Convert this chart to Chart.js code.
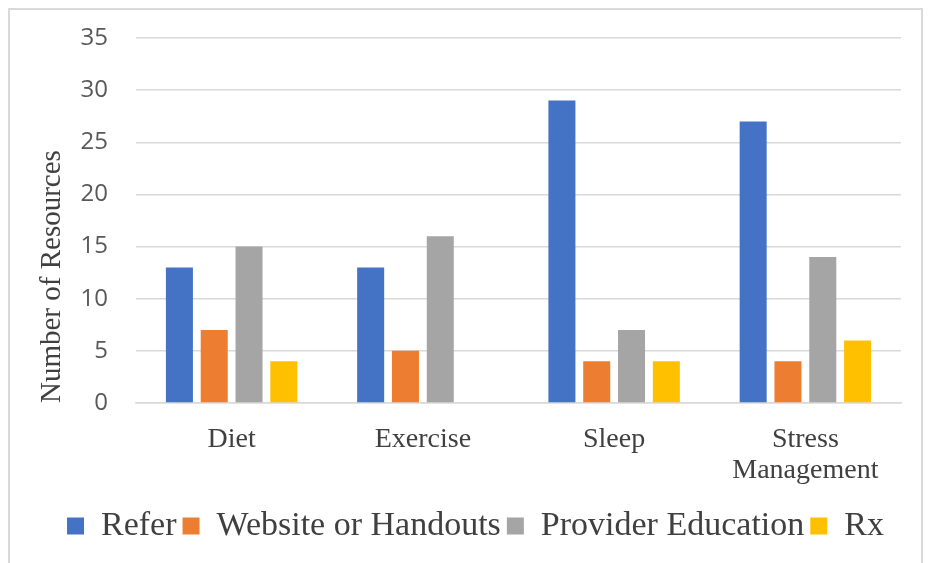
<!DOCTYPE html>
<html lang="en">
<head>
    <meta charset="UTF-8">
    <title>Number of Resources by Topic</title>
    <style>
        body {
            margin: 0;
            padding: 0;
            background-color: #ffffff;
        }
        .frame {
            position: absolute;
            left: 8px;
            top: 8px;
            width: 915px;
            height: 600px;
            border: 2px solid #d9d9d9;
            box-sizing: border-box;
        }
        #resourceChart {
            position: absolute;
            left: 0;
            top: 0;
        }
    </style>
</head>
<body>

    <div class="frame"></div>
    <canvas id="resourceChart" width="928" height="563"></canvas>

    <script src="https://cdn.jsdelivr.net/npm/chart.js"></script>
    <script>
        // Resource counts per topic
        const topics = ['Diet', 'Exercise', 'Sleep', ['Stress', 'Management']];
        const refer = [13, 13, 29, 27];
        const websiteHandouts = [7, 5, 4, 4];
        const providerEducation = [15, 16, 7, 14];
        const rx = [4, 0, 4, 6];
        const yTicks = [0, 5, 10, 15, 20, 25, 30, 35];

        const serif = '"Liberation Serif", "Times New Roman", serif';

        // nudge the legend so it sits centred under the whole frame, not just the padded area
        const legendOffset = {
            id: 'legendOffset',
            afterLayout(chart) {
                const legend = chart.legend;
                if (legend) {
                    legend.left += 21;
                    legend.right += 21;
                }
            }
        };

        const ctx = document.getElementById('resourceChart').getContext('2d');
        new Chart(ctx, {
            type: 'bar',
            data: {
                labels: topics,
                datasets: [
                    { label: 'Refer', data: refer, backgroundColor: '#4472c4' },
                    { label: 'Website or Handouts', data: websiteHandouts, backgroundColor: '#ed7d31' },
                    { label: 'Provider Education', data: providerEducation, backgroundColor: '#a5a5a5' },
                    { label: 'Rx', data: rx, backgroundColor: '#ffc000' }
                ]
            },
            plugins: [legendOffset],
            options: {
                responsive: false,
                animation: false,
                datasets: {
                    bar: {
                        categoryPercentage: 0.728,
                        barPercentage: 0.776
                    }
                },
                layout: {
                    padding: { top: 38, left: 8, right: 27, bottom: 10 }
                },
                plugins: {
                    tooltip: { enabled: false },
                    legend: {
                        position: 'bottom',
                        labels: {
                            boxWidth: 17,
                            boxHeight: 17,
                            padding: 6,
                            color: '#404040',
                            font: { family: serif, size: 34 }
                        }
                    }
                },
                scales: {
                    x: {
                        grid: { display: false },
                        border: { color: '#d9d9d9', width: 1.5 },
                        ticks: {
                            color: '#404040',
                            padding: 14,
                            maxRotation: 0,
                            font: { family: serif, size: 28, lineHeight: 1.08 }
                        },
                        afterFit: function (scale) {
                            scale.height = 100;
                        }
                    },
                    y: {
                        min: 0,
                        max: 35,
                        afterBuildTicks: function (scale) {
                            scale.ticks = yTicks.map(v => ({ value: v }));
                        },
                        grid: { color: '#d9d9d9', lineWidth: 1.5, drawTicks: false },
                        border: { display: false },
                        ticks: {
                            color: '#595959',
                            padding: 28,
                            font: { family: '"Open Sans", sans-serif', size: 24 }
                        },
                        title: {
                            display: true,
                            text: 'Number of Resources',
                            align: 'start',
                            color: '#404040',
                            padding: { top: 27, bottom: 0 },
                            font: { family: serif, size: 29 }
                        },
                        afterFit: function (scale) {
                            scale.width = 128;
                            // the wide tick padding should only push labels left, not shrink the plot
                            scale.paddingTop = 0;
                            scale.paddingBottom = 0;
                        }
                    }
                }
            }
        });
    </script>
</body>
</html>
